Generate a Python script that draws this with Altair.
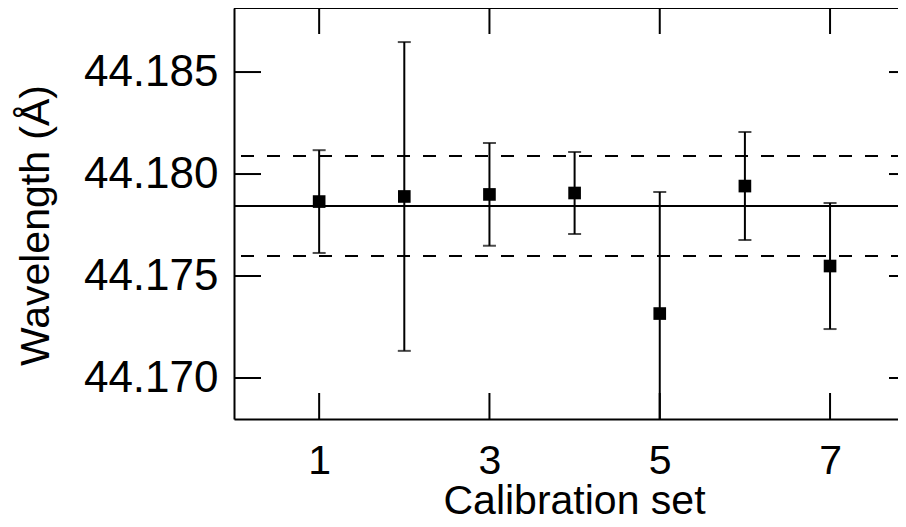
import altair as alt
import pandas as pd

# Data
sets = [1, 2, 3, 4, 5, 6, 7]
wavelength = [44.17865, 44.17890, 44.17900, 44.17907, 44.17316, 44.17941, 44.17549]
errors = [0.00252, 0.00757, 0.00252, 0.00201, 0.00596, 0.00265, 0.00309]
mean_line = [44.17843]
band_lines = [44.18088, 44.17598]
x_ticks = [1, 3, 5, 7]
y_ticks = [44.170, 44.175, 44.180, 44.185]

W, H = 664, 411
FONT = "Liberation Sans"

df = pd.DataFrame({
    "set": sets,
    "wl": wavelength,
    "lo": [w - e for w, e in zip(wavelength, errors)],
    "hi": [w + e for w, e in zip(wavelength, errors)],
})
mean_df = pd.DataFrame({"y": mean_line})
band_df = pd.DataFrame({"y": band_lines})
xt_df = pd.DataFrame({"x": x_ticks})
yt_df = pd.DataFrame({"y": y_ticks})

xscale = alt.Scale(domain=[0, 7.798], nice=False, zero=False)
yscale = alt.Scale(domain=[44.16799, 44.18814], nice=False, zero=False)

xaxis = alt.Axis(
    values=x_ticks, format="d", tickSize=0, grid=False, domain=True, domainWidth=2,
    domainColor="black",
    labelFont=FONT, labelFontSize=41, labelColor="black", labelBaseline="alphabetic",
    labelPadding=54, labelFlush=False,
    title="Calibration set", titleFont=FONT, titleFontSize=41, titleFontWeight="normal",
    titleColor="black", titleX=340, titleY=94, titleAlign="center", titleBaseline="alphabetic",
)
yaxis = alt.Axis(
    values=y_ticks, tickSize=0, grid=False, domain=True, domainWidth=2, domainColor="black",
    labelFont=FONT, labelFontSize=44, labelColor="black", labelPadding=16, format=".3f",
    labelFlush=False,
    title="Wavelength (Å)", titleFont=FONT, titleFontSize=41, titleFontWeight="normal",
    titleColor="black", titleX=-186, titleY=217, titleAlign="center", titleAngle=270,
    titleBaseline="alphabetic",
)

base = alt.Chart(df)

errbar = base.mark_rule(color="black", strokeWidth=2, clip=True).encode(
    x=alt.X("set:Q", scale=xscale, axis=xaxis),
    y=alt.Y("lo:Q", scale=yscale, axis=yaxis),
    y2="hi:Q",
)
cap_hi = base.mark_tick(color="black", orient="horizontal", size=13, thickness=2, clip=True).encode(
    x="set:Q", y="hi:Q"
)
cap_lo = base.mark_tick(color="black", orient="horizontal", size=13, thickness=2, clip=True).encode(
    x="set:Q", y="lo:Q"
)
points = base.mark_square(color="black", size=160, opacity=1, filled=True).encode(
    x="set:Q", y="wl:Q"
)

mean_rule = alt.Chart(mean_df).mark_rule(color="black", strokeWidth=2).encode(
    y="y:Q", x=alt.value(0), x2=alt.value(W)
)
band_rule = alt.Chart(band_df).mark_rule(
    color="black", strokeWidth=2, strokeDash=[13, 13], strokeDashOffset=19
).encode(y="y:Q", x=alt.value(0), x2=alt.value(W))

bottom_ticks = alt.Chart(xt_df).mark_rule(color="black", strokeWidth=2).encode(
    x="x:Q", y=alt.value(H - 26), y2=alt.value(H)
)
top_ticks = alt.Chart(xt_df).mark_rule(color="black", strokeWidth=2).encode(
    x="x:Q", y=alt.value(0), y2=alt.value(26)
)
left_ticks = alt.Chart(yt_df).mark_rule(color="black", strokeWidth=2).encode(
    y="y:Q", x=alt.value(0), x2=alt.value(27)
)
right_ticks = alt.Chart(yt_df).mark_rule(color="black", strokeWidth=2).encode(
    y="y:Q", x=alt.value(W - 9), x2=alt.value(W)
)
top_line = alt.Chart(xt_df).mark_rule(color="black", strokeWidth=2).encode(
    y=alt.value(0), x=alt.value(0), x2=alt.value(W)
)

chart = alt.layer(
    band_rule, mean_rule, errbar, cap_hi, cap_lo, points,
    bottom_ticks, top_ticks, left_ticks, right_ticks, top_line,
).properties(
    width=W, height=H,
    autosize=alt.AutoSizeParams(type="none"),
    padding={"left": 226, "top": 0, "right": 0, "bottom": 100},
).configure_view(stroke=None).configure(background="white")

chart.save("out.html", embed_options={"renderer": "svg", "actions": False})
